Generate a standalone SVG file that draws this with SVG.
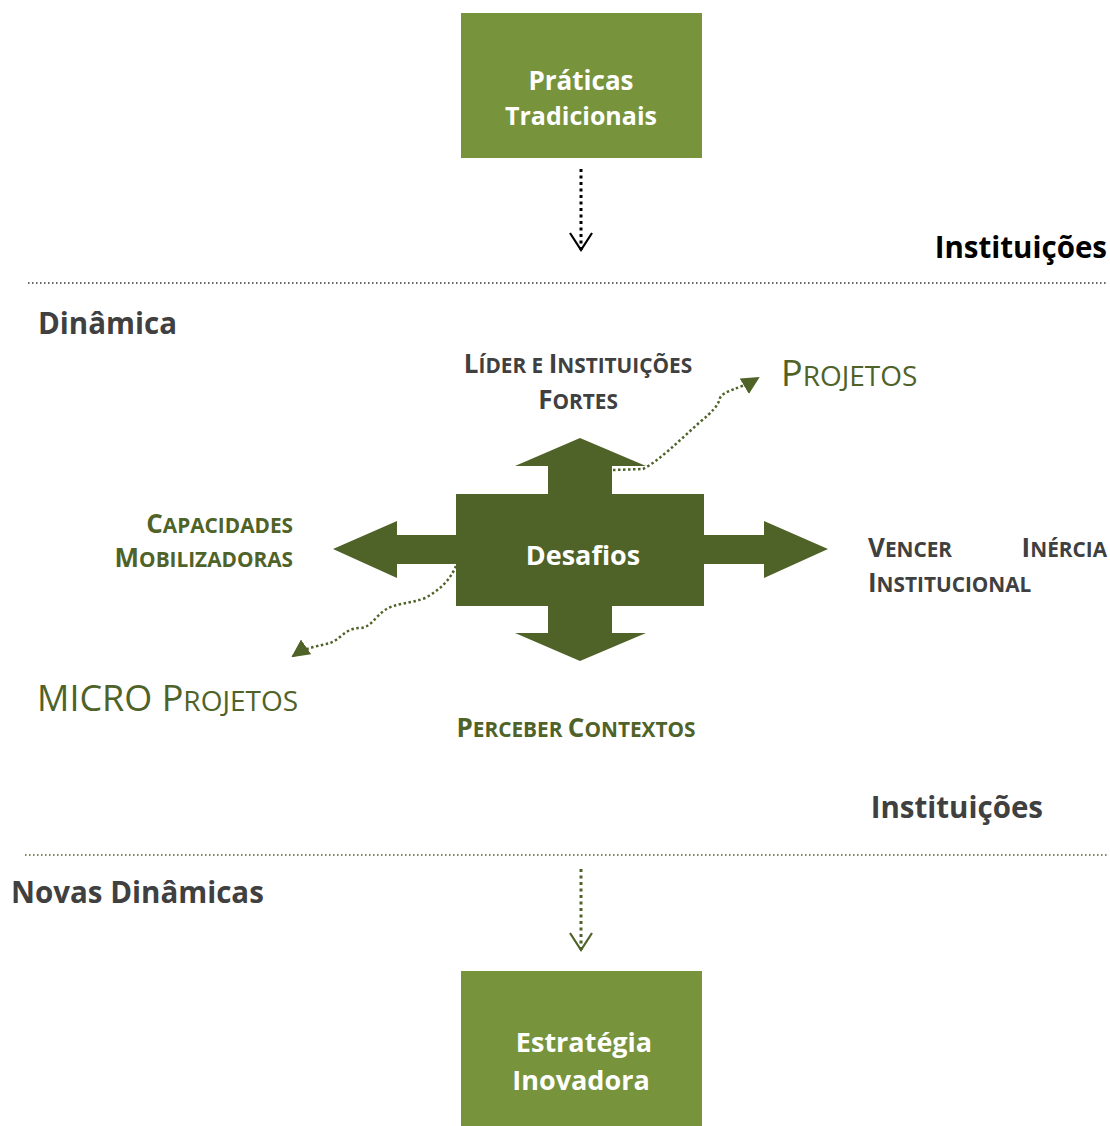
<svg xmlns="http://www.w3.org/2000/svg" width="1110" height="1126" viewBox="0 0 1110 1126">
<style>
.box{fill:#77933C}
.boxt{font-family:"Open Sans","Liberation Sans",sans-serif;font-weight:bold;font-size:27px;fill:#fff;text-anchor:middle}
.head{font-family:"Open Sans","Liberation Sans",sans-serif;font-weight:bold;font-size:29.5px;fill:#404040}
.sc{font-family:"Open Sans","Liberation Sans",sans-serif;font-weight:bold;font-size:26px}
.sm{font-size:20.8px}
.gray{fill:#404040}
.green{fill:#4F6228}
.big{font-family:"Open Sans","Liberation Sans",sans-serif;font-size:36px;fill:#4F6228}
.bsm{font-size:28px}
.sep{stroke-width:1.5;stroke-dasharray:1.5 2.5;fill:none}
.conn{fill:none;stroke-width:2.5;stroke-dasharray:2.5 2.5}
</style>
<defs>
<marker id="vblack" markerWidth="20" markerHeight="24" refX="18" refY="12" orient="auto" markerUnits="userSpaceOnUse">
<path d="M1 1 L18 12 L1 23" fill="none" stroke="#000" stroke-width="2.2"/>
</marker>
<marker id="vgreen" markerWidth="20" markerHeight="24" refX="18" refY="12" orient="auto" markerUnits="userSpaceOnUse">
<path d="M1 1 L18 12 L1 23" fill="none" stroke="#4F6228" stroke-width="2.2"/>
</marker>
<marker id="tri" markerWidth="18" markerHeight="18" refX="16" refY="9" orient="auto" markerUnits="userSpaceOnUse">
<path d="M0 0 L18 9 L0 18 Z" fill="#4F6228"/>
</marker>
</defs>

<g id="separators">
<line class="sep" x1="28" y1="283" x2="1108" y2="283" stroke="#333"/>
<line class="sep" x1="25" y1="855" x2="1108" y2="855" stroke="#4F6228"/>
</g>

<g id="connectors">
<line x1="581" y1="169" x2="581" y2="250" stroke="#000" stroke-width="3" stroke-dasharray="3 3.5" marker-end="url(#vblack)"/>
<line x1="581" y1="869" x2="581" y2="950" stroke="#4F6228" stroke-width="3" stroke-dasharray="3 3.5" marker-end="url(#vgreen)"/>
<path class="conn" stroke="#4F6228" d="M613 470 L643 469 C660 460 680 440 700 422 C712 412 718 406 720 398 C724 390 738 390 758 378" marker-end="url(#tri)"/>
<path class="conn" stroke="#4F6228" d="M456 566 C450 580 440 590 425 598 C410 604 395 603 385 610 C375 617 370 628 360 628 C345 628 340 640 330 643 C320 646 306 647 293 656" marker-end="url(#tri)"/>
</g>

<g id="praticas">
<rect class="box" x="461" y="13" width="241" height="145"/>
<text class="boxt" x="581" y="90" style="font-size:26px">Práticas</text>
<text class="boxt" x="581" y="125" style="font-size:25px">Tradicionais</text>
</g>

<g id="estrategia">
<rect class="box" x="461" y="971" width="241" height="155"/>
<text class="boxt" x="584" y="1052">Estratégia</text>
<text class="boxt" x="581" y="1090">Inovadora</text>
</g>

<g id="desafios">
<path fill="#4F6228" d="M580 438 L646 466 L612 466 L612 494 L704 494 L704 535 L764 535 L764 521 L828 549 L764 578 L764 564 L704 564 L704 606 L612 606 L612 633 L646 633 L580 661 L515 633 L548 633 L548 606 L456 606 L456 564 L397 564 L397 578 L333 549 L397 521 L397 535 L456 535 L456 494 L548 494 L548 466 L515 466 Z"/>
<text class="boxt" x="583" y="565">Desafios</text>
</g>

<g id="labels">
<text class="head" x="1107" y="258" text-anchor="end" style="fill:#000">Instituições</text>
<text class="head" x="38" y="334">Dinâmica</text>
<text class="head" x="1043" y="818" text-anchor="end">Instituições</text>
<text class="head" x="11" y="903">Novas Dinâmicas</text>

<text class="sc gray" x="578" y="373" text-anchor="middle">L<tspan class="sm">ÍDER E </tspan>I<tspan class="sm">NSTITUIÇÕES</tspan></text>
<text class="sc gray" x="578" y="409" text-anchor="middle">F<tspan class="sm">ORTES</tspan></text>

<text class="big" x="781" y="386">P<tspan class="bsm">ROJETOS</tspan></text>

<text class="sc green" x="293" y="533" text-anchor="end">C<tspan class="sm">APACIDADES</tspan></text>
<text class="sc green" x="293" y="567" text-anchor="end">M<tspan class="sm">OBILIZADORAS</tspan></text>

<text class="sc gray" x="868" y="557">V<tspan class="sm">ENCER</tspan></text>
<text class="sc gray" x="1107" y="557" text-anchor="end">I<tspan class="sm">NÉRCIA</tspan></text>
<text class="sc gray" x="868" y="592">I<tspan class="sm">NSTITUCIONAL</tspan></text>

<text class="big" x="37" y="711">MICRO P<tspan class="bsm">ROJETOS</tspan></text>

<text class="sc green" x="576" y="737" text-anchor="middle">P<tspan class="sm">ERCEBER </tspan>C<tspan class="sm">ONTEXTOS</tspan></text>
</g>
</svg>
